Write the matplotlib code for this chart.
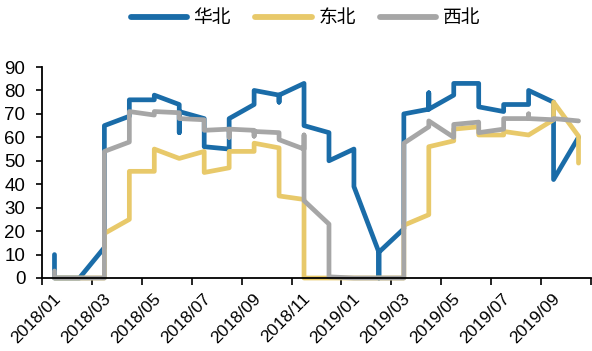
import matplotlib
matplotlib.use("Agg")
import matplotlib.pyplot as plt
import matplotlib.transforms as mtransforms
import numpy as np

# Monthly groups of weekly readings (index 0 = 2018/01 ... 21 = 2019/10)
huabei = [[10, 0], [0], [13, 65], [69, 76], [76, 78], [74, 62, 71], [68, 56],
          [55, 68], [74, 80], [78, 75, 78], [83, 65], [62, 50], [55, 39],
          [11, 0, 11], [21, 70], [72, 79, 72], [78, 83], [83, 73], [71, 74],
          [74, 80], [75, 42], [60]]
dongbei = [[0], [0], [0, 19], [25, 45.5], [45.5, 55], [51], [54, 45], [47, 54],
           [54, 57.5], [55.5, 35], [33.5, 0], [0], [0], [0], [0, 22.5],
           [27, 56], [58.5, 63.5], [64.5, 61], [61, 62.5], [61], [67.5, 75],
           [60.5, 49]]
xibei = [[3, 0], [0], [0, 54], [58, 71], [69.5, 71], [70.5, 68], [67.5, 63],
         [63.5, 60, 63.5], [63, 60.5, 62.5], [62, 59], [55, 61, 33], [23, 0.5],
         [0], [0], [0, 57.5], [64.5, 67], [60, 65.5], [66.5, 62], [63.5, 68],
         [68, 70, 68], [67.5, 68], [67]]

series_names = ["华北", "东北", "西北"]
series_data = [huabei, dongbei, xibei]
colors = ["#1A6CA8", "#E8C96A", "#A6A6A6"]

tick_labels = ["2018/01", "2018/03", "2018/05", "2018/07", "2018/09", "2018/11",
               "2019/01", "2019/03", "2019/05", "2019/07", "2019/09"]
n_months = 22


def flatten(groups):
    xs, ys = [], []
    for m, vals in enumerate(groups):
        for v in vals:
            xs.append(m + 0.5)
            ys.append(v)
    return np.array(xs), np.array(ys)


plt.rcParams['font.family'] = ['Liberation Sans', 'Noto Sans CJK SC', 'DejaVu Sans']

fig = plt.figure(figsize=(5.92, 3.51), dpi=100)
ax = fig.add_axes([42 / 592, 1 - 278 / 351, (591 - 42) / 592, (278 - 67) / 351])

for name, data, c in zip(series_names, series_data, colors):
    xs, ys = flatten(data)
    ax.plot(xs, ys, color=c, lw=3.4, label=name, clip_on=False,
            solid_joinstyle='round', solid_capstyle='round')

ax.set_xlim(0, n_months)
ax.set_ylim(0, 90)
ax.set_yticks(np.arange(0, 91, 10))
ax.tick_params(axis='y', direction='out', length=4, width=1.2, labelsize=13.5, pad=8)

ax.set_xticks(np.arange(0, n_months + 1, 2))
ax.set_xticklabels([])
ax.tick_params(axis='x', which='major', direction='out', length=5, width=1.2)
ax.set_xticks(np.arange(0.5, n_months, 2), labels=tick_labels, minor=True)
ax.tick_params(axis='x', which='minor', length=0, labelsize=12.5, pad=13)
offset = mtransforms.ScaledTranslation(4 / 100, 0, fig.dpi_scale_trans)
for lab in ax.get_xticklabels(minor=True):
    lab.set_rotation(45)
    lab.set_ha('right')
    lab.set_va('center')
    lab.set_rotation_mode('anchor')
    lab.set_transform(lab.get_transform() + offset)

for s in ['top', 'right']:
    ax.spines[s].set_visible(False)
for s in ['left', 'bottom']:
    ax.spines[s].set_linewidth(1.3)
    ax.spines[s].set_color('black')

leg = fig.legend(loc='center', bbox_to_anchor=(0.516, 0.949), ncol=3, frameon=False,
                 handlelength=3.0, handletextpad=0.35, columnspacing=1.3,
                 prop={'family': ['Noto Sans CJK SC'], 'size': 13.5})
for line in leg.get_lines():
    line.set_linewidth(4.2)
    line.set_solid_capstyle('round')

fig.savefig("out.png", dpi=100)
